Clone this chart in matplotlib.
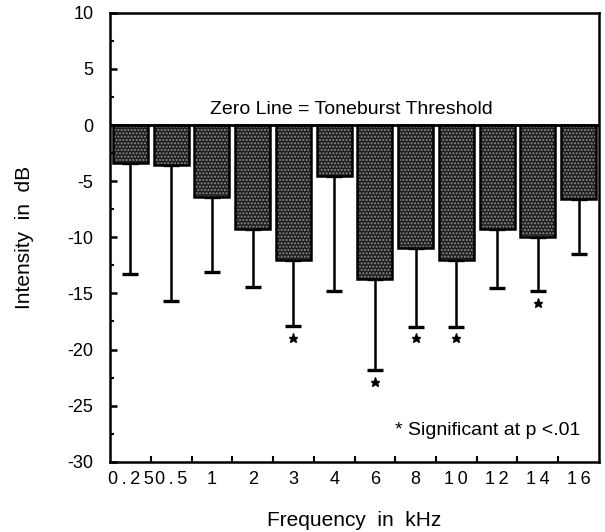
import matplotlib
matplotlib.use("Agg")
import matplotlib.pyplot as plt
import numpy as np
from matplotlib.ticker import MultipleLocator, FixedLocator

plt.rcParams['font.family'] = ['Liberation Sans', 'DejaVu Sans']
plt.rcParams['axes.unicode_minus'] = False

# values (dB relative to toneburst threshold)
freqs = ["0.25", "0.5", "1", "2", "3", "4", "6", "8", "10", "12", "14", "16"]
means = [-3.4, -3.6, -6.45, -9.25, -12.0, -4.5, -13.7, -11.0, -12.0, -9.3, -10.0, -6.55]
lower = [-13.25, -15.65, -13.1, -14.45, -17.9, -14.8, -21.8, -17.95, -17.95, -14.5, -14.8, -11.45]
signif = [False, False, False, False, True, False, True, True, True, False, True, False]

x = np.arange(len(freqs))
err = np.array(means) - np.array(lower)

fig = plt.figure(figsize=(6.05, 5.32), dpi=100)
ax = fig.add_axes([0.182, 0.132, 0.808, 0.844])

# stippled fill, then black outline
ax.bar(x, means, width=0.86, color='#1e1e1e', edgecolor='#8c8c8c',
       hatch='.....', linewidth=0, zorder=2)
ax.bar(x, means, width=0.86, fill=False, edgecolor='black', linewidth=1.8, zorder=3)

ax.errorbar(x, means, yerr=[err, np.zeros_like(err)], fmt='none', ecolor='black',
            elinewidth=1.8, capsize=5.5, capthick=2.4, zorder=1)

for xi, lo, s in zip(x, lower, signif):
    if s:
        ax.plot(xi, lo - 1.05, marker='*', color='black', markersize=6.5, zorder=4)

ax.axhline(0, color='black', linewidth=2, zorder=4)

ax.set_xlim(-0.5, len(freqs) - 0.5)
ax.set_ylim(-30, 10)

# the original typesetting spreads the digits out
ax.set_xticks(x)
ax.set_xticklabels(['\u2009'.join(f) for f in freqs], fontsize=13)
ax.xaxis.set_minor_locator(FixedLocator(x[:-1] + 0.5))
ax.tick_params(axis='x', which='major', length=0, pad=7)
ax.tick_params(axis='x', which='minor', direction='in', length=4, width=1.5)

ax.yaxis.set_major_locator(MultipleLocator(5))
ax.yaxis.set_minor_locator(MultipleLocator(2.5))
ax.tick_params(axis='y', which='major', direction='in', length=5, width=1.8,
               labelsize=13, pad=12)
ax.tick_params(axis='y', which='minor', direction='in', length=3, width=1.5)

for sp in ax.spines.values():
    sp.set_linewidth(1.8)

ax.text(5.42, 0.6, "Zero Line = Toneburst Threshold", ha='center', va='bottom',
        fontsize=14)
ax.text(11.05, -27.2, "* Significant at p <.01", ha='right', va='center',
        fontsize=14)

ax.set_ylabel("Intensity  in  dB", fontsize=15, labelpad=24)
ax.set_xlabel("Frequency  in  kHz", fontsize=15, labelpad=16)

plt.savefig("out.png", dpi=100)
